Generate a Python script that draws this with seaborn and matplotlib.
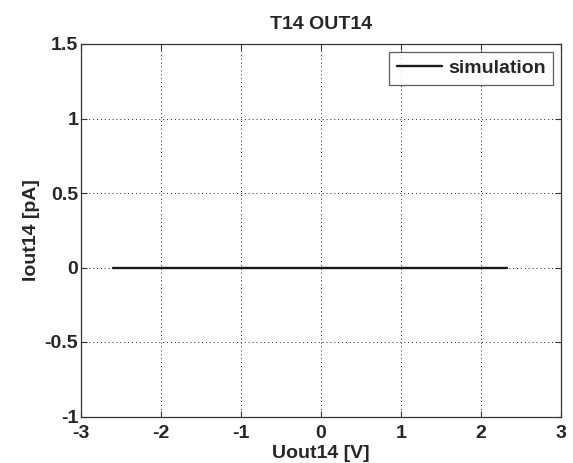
import matplotlib
matplotlib.use("Agg")
import matplotlib.pyplot as plt
import seaborn as sns
import pandas as pd

# Data
uout = [-2.6, -1.0, 0.0, 1.0, 2.33]
iout = [0.0, 0.0, 0.0, 0.0, 0.0]
series_name = "simulation"
x_ticks = [-3, -2, -1, 0, 1, 2, 3]
y_ticks = [-1, -0.5, 0, 0.5, 1, 1.5]
x_ticklabels = ["-3", "-2", "-1", "0", "1", "2", "3"]
y_ticklabels = ["-1", "-0.5", "0", "0.5", "1", "1.5"]

df = pd.DataFrame({"Uout14": uout, "Iout14": iout, "series": series_name})

sns.set_theme(style="white")
plt.rcParams["font.family"] = ["Liberation Sans", "DejaVu Sans"]
plt.rcParams["font.weight"] = "bold"

FS = 14
fig = plt.figure(figsize=(5.73, 4.63), dpi=100)
ax = fig.add_axes([81 / 573, 1 - 416.5 / 463, (561 - 81) / 573, (416.5 - 44) / 463])

sns.lineplot(data=df, x="Uout14", y="Iout14", hue="series", palette=["#1a1a1a"],
             linewidth=1.7, ax=ax, legend=True)

ax.set_xlim(-3, 3)
ax.set_ylim(-1, 1.5)
ax.set_xticks(x_ticks)
ax.set_yticks(y_ticks)
ax.set_xticklabels(x_ticklabels, fontsize=FS, fontweight="bold")
ax.set_yticklabels(y_ticklabels, fontsize=FS, fontweight="bold")
ax.tick_params(direction="in", length=4, width=0.8, color="#333333",
               top=True, right=True, bottom=True, left=True)
ax.tick_params(axis="x", pad=6)
ax.tick_params(axis="y", pad=2)
ax.grid(True, linestyle=(0, (1, 3)), color="#222222", linewidth=0.7)
for s in ax.spines.values():
    s.set_color("#333333")
    s.set_linewidth(0.9)
    s.set_visible(True)

ax.set_xlabel("Uout14 [V]", fontsize=FS, fontweight="bold", labelpad=2)
ax.set_ylabel("Iout14 [pA]", fontsize=FS, fontweight="bold", labelpad=3)
ax.set_title("T14 OUT14", fontsize=FS, fontweight="bold", pad=11)

leg = ax.legend(loc="upper right", frameon=True, fancybox=False,
                edgecolor="#333333", handlelength=2.3, handletextpad=0.3,
                borderaxespad=0.4, borderpad=0.4,
                prop={"weight": "bold", "size": FS})
leg.get_frame().set_linewidth(0.9)

fig.savefig("out.png", dpi=100)
